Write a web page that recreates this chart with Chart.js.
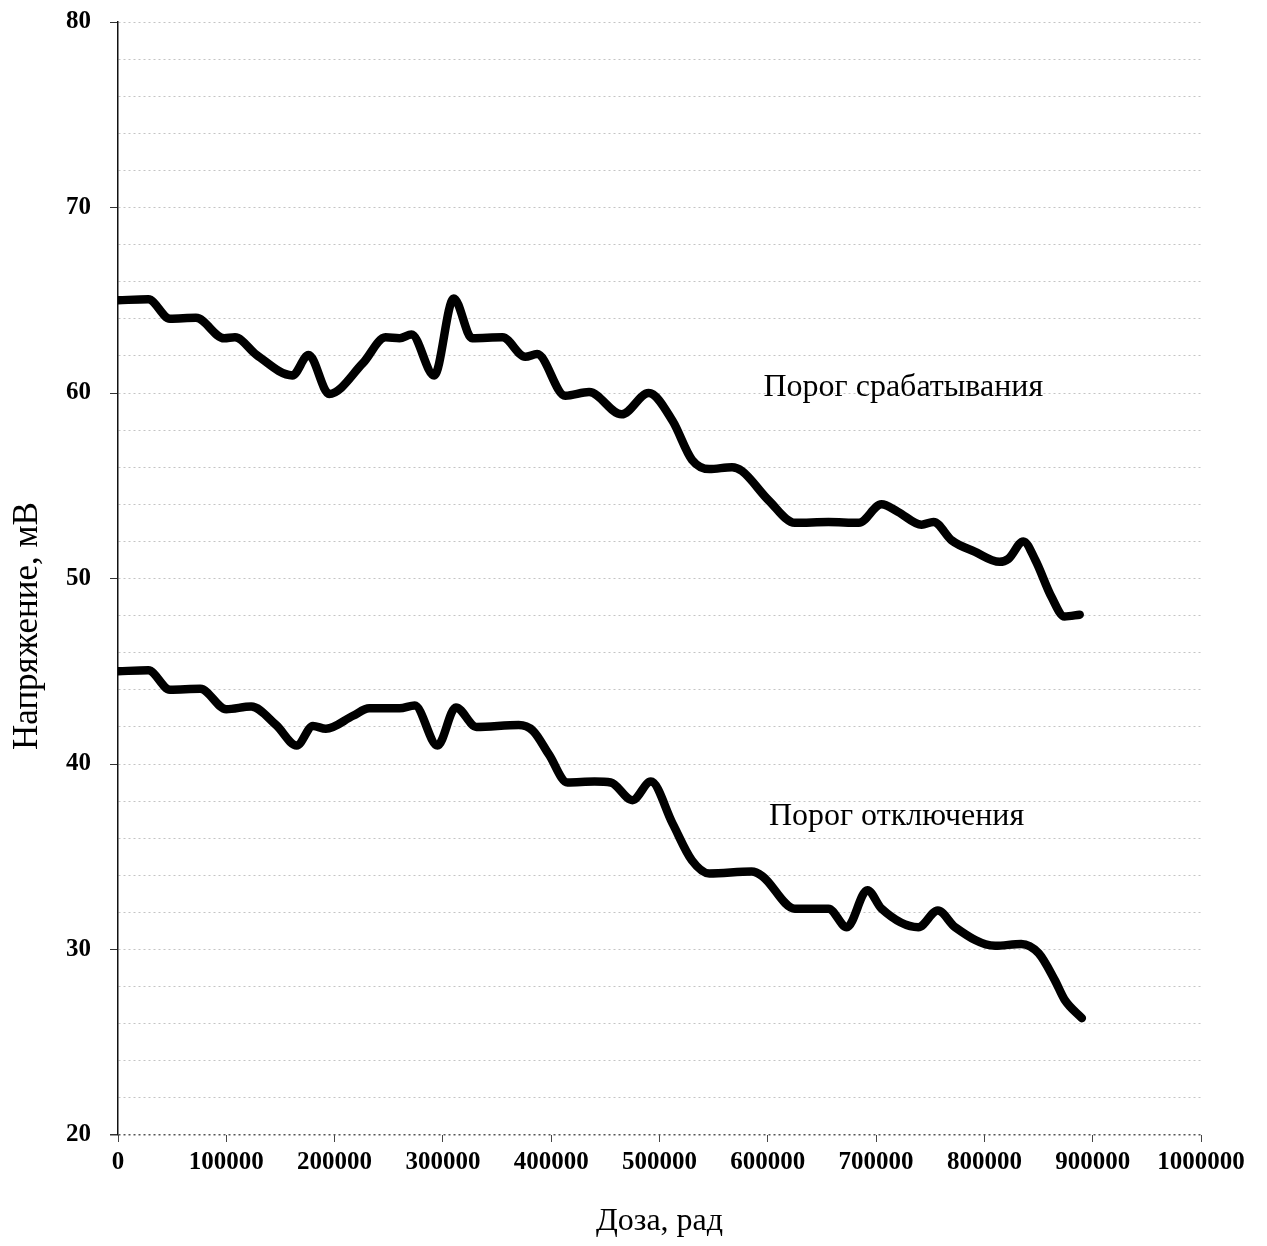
<!DOCTYPE html>
<html>
<head>
<meta charset="utf-8">
<script src="https://cdn.jsdelivr.net/npm/chart.js@4.4.1/dist/chart.umd.min.js"></script>
<style>
    body { margin: 0; background: #fff; }
    #wrap { width: 1267px; height: 1246px; }
</style>
</head>
<body>
<div id="wrap"><canvas id="doseChart"></canvas></div>
<script>
// Порог срабатывания
const doseUpper = [0, 28000, 48000, 72000, 98000, 108000, 128000, 161000, 176000, 195000, 226000, 247000, 260000, 271000, 292000, 310000, 327000, 355000, 376000, 387000, 413000, 435000, 465000, 490000, 512000, 530000, 546000, 567000, 576000, 601000, 625000, 656000, 684000, 705000, 720000, 742000, 753000, 770000, 791000, 814000, 822000, 836000, 847000, 862000, 874000, 888000];
const voltUpper = [65.0, 65.05, 64.0, 64.05, 62.95, 63.0, 62.05, 60.95, 62.05, 59.95, 61.6, 63.0, 62.95, 63.15, 60.95, 65.1, 62.95, 63.0, 61.95, 62.1, 59.85, 60.05, 58.85, 60.0, 58.5, 56.4, 55.9, 56.0, 55.8, 54.2, 53.0, 53.05, 53.0, 54.0, 53.6, 52.9, 53.05, 52.05, 51.45, 50.9, 51.05, 52.0, 51.0, 49.0, 47.95, 48.05];

// Порог отключения
const doseLower = [0, 28000, 48000, 76000, 100000, 123000, 146000, 165000, 180000, 192000, 217000, 232000, 260000, 274000, 295000, 312000, 331000, 370000, 383000, 398000, 415000, 440000, 455000, 475000, 492000, 512000, 530000, 546000, 585000, 595000, 625000, 656000, 673000, 692000, 705000, 739000, 757000, 773000, 810000, 834000, 850000, 865000, 874000, 890000];
const voltLower = [45.0, 45.05, 44.0, 44.05, 42.95, 43.1, 42.1, 41.0, 42.05, 41.9, 42.6, 43.0, 43.0, 43.15, 41.0, 43.05, 42.0, 42.1, 41.8, 40.5, 39.0, 39.05, 39.0, 38.05, 39.05, 36.8, 34.8, 34.1, 34.2, 33.95, 32.2, 32.2, 31.2, 33.2, 32.2, 31.2, 32.1, 31.2, 30.2, 30.3, 29.8, 28.35, 27.3, 26.3];

const xTicks = [0, 100000, 200000, 300000, 400000, 500000, 600000, 700000, 800000, 900000, 1000000];
const yTicks = [20, 30, 40, 50, 60, 70, 80];

const curveLabels = [
    { text: 'Порог срабатывания', x: 596000, y: 59.85 },
    { text: 'Порог отключения', x: 601000, y: 36.7 }
];

const serif = "'Liberation Serif', 'Times New Roman', serif";

function toPoints(xs, ys) {
    let pts = [];
    for (let i = 0; i < xs.length; i++) {
        pts.push({ x: xs[i], y: ys[i] });
    }
    return pts;
}

function curve(points) {
    return {
        data: points,
        borderColor: '#000',
        borderWidth: 8.5,
        borderCapStyle: 'round',
        borderJoinStyle: 'round',
        pointRadius: 0,
        cubicInterpolationMode: 'monotone',
        fill: false
    };
}

// подписи кривых и подпись оси Y
const chartText = {
    id: 'chartText',
    afterDatasetsDraw(chart) {
        const ctx = chart.ctx;
        const xs = chart.scales.x;
        const ys = chart.scales.y;
        ctx.save();
        ctx.fillStyle = '#000';
        ctx.font = '32px ' + serif;
        ctx.textAlign = 'left';
        ctx.textBaseline = 'alphabetic';
        curveLabels.forEach(l => {
            ctx.fillText(l.text, xs.getPixelForValue(l.x), ys.getPixelForValue(l.y));
        });

        ctx.translate(28, 626);
        ctx.rotate(-Math.PI / 2);
        ctx.font = '35px ' + serif;
        ctx.textAlign = 'center';
        ctx.textBaseline = 'middle';
        ctx.fillText('Напряжение, мВ', 0, 0);
        ctx.restore();
    }
};

const data = {
    datasets: [
        curve(toPoints(doseUpper, voltUpper)),
        curve(toPoints(doseLower, voltLower))
    ]
};

const config = {
    type: 'line',
    data: data,
    options: {
        responsive: true,
        maintainAspectRatio: false,
        animation: false,
        layout: { padding: { left: 0, top: 22, right: 66, bottom: 0 } },
        plugins: {
            legend: { display: false },
            tooltip: { enabled: false }
        },
        scales: {
            x: {
                type: 'linear',
                min: 0,
                max: 1000000,
                afterBuildTicks: scale => { scale.ticks = xTicks.map(v => ({ value: v })); },
                afterFit: scale => { scale.height = 111; },
                ticks: {
                    color: '#000',
                    padding: 6,
                    maxRotation: 0,
                    font: { family: serif, size: 25, weight: 'bold' },
                    callback: v => String(v)
                },
                grid: {
                    drawOnChartArea: false,
                    drawTicks: true,
                    tickLength: 7,
                    tickColor: '#444'
                },
                border: { display: false },
                title: {
                    display: true,
                    text: 'Доза, рад',
                    color: '#000',
                    font: { family: serif, size: 32 },
                    padding: { top: 0, bottom: 5 }
                }
            },
            y: {
                min: 20,
                max: 80,
                afterBuildTicks: scale => {
                    let t = [];
                    for (let v = 20; v <= 80; v += 2) t.push({ value: v });
                    scale.ticks = t;
                },
                afterFit: scale => {
                    scale.width = 118;
                    scale.paddingTop = 0;
                    scale.paddingBottom = 0;
                },
                ticks: {
                    color: '#000',
                    padding: 19,
                    font: { family: serif, size: 25, weight: 'bold' },
                    callback: v => yTicks.includes(v) ? String(v) : ''
                },
                grid: {
                    color: c => c.tick && c.tick.value === 20 ? '#555' : '#c4c4c4',
                    lineWidth: c => c.tick && c.tick.value === 20 ? 1.5 : 1,
                    drawTicks: true,
                    tickLength: 8,
                    tickBorderDash: [],
                    tickColor: c => c.tick && yTicks.includes(c.tick.value) ? '#333' : 'rgba(0,0,0,0)'
                },
                border: { color: '#111', width: 1.5, dash: [2, 3] },
                title: { display: false }
            }
        }
    },
    plugins: [chartText]
};

let idDoseChart = document.getElementById('doseChart').getContext('2d');
new Chart(idDoseChart, config);
</script>
</body>
</html>
